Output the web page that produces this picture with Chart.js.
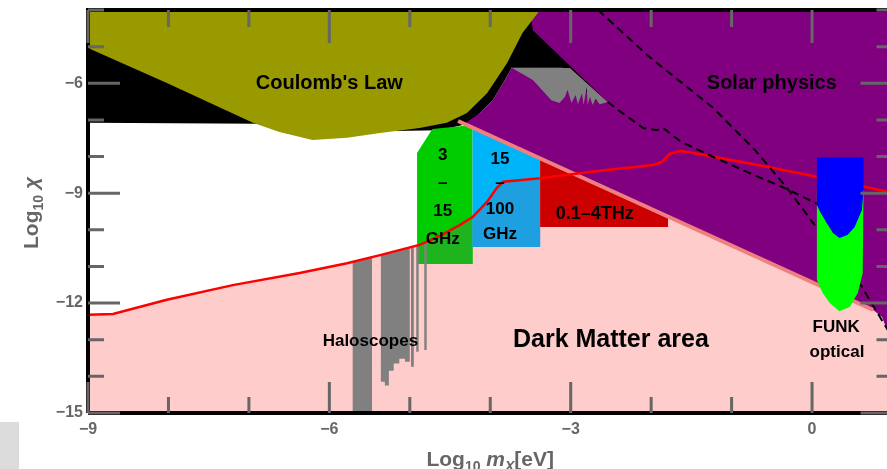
<!DOCTYPE html>
<html>
<head>
<meta charset="utf-8">
<script src="https://cdn.jsdelivr.net/npm/chart.js@4.4.1/dist/chart.umd.min.js"></script>
<style>
  html, body { margin: 0; padding: 0; background: #fff; overflow: hidden; }
  #wrap { position: relative; width: 887px; height: 469px; overflow: hidden; }
  #corner { position: absolute; left: 0; top: 422px; width: 19px; height: 47px; background: #dcdcdc; }
</style>
</head>
<body>
<div id="wrap">
  <canvas id="plot" width="894" height="469"></canvas>
  <div id="corner"></div>
</div>
<script>
// axes (log10 of mass in eV, log10 of mixing)
const xTicks = [-9, -6, -3, 0];
const yTicks = [-15, -12, -9, -6];

// red sensitivity line
const redX = [-9, -8.69, -8.02, -7.20, -6.37, -5.78, -5.37, -4.88, -4.63, -4.38, -4.22, -4.04, -3.92, -3.84, -3.38, -2.64, -1.98, -1.87, -1.77, -1.64, -1.52, -0.56, 0.26, 1];
const redY = [-12.32, -12.30, -11.91, -11.51, -11.18, -10.91, -10.69, -10.41, -10.17, -9.87, -9.65, -9.24, -8.86, -8.69, -8.59, -8.39, -8.23, -8.15, -7.93, -7.85, -7.88, -8.28, -8.64, -8.99];

// dark matter area (pink)
const pinkX = [-9, -9, -8.69, -8.02, -7.20, -6.37, -5.78, -5.37, -4.88, -4.63, -4.38, -4.22, -4.22, 0.76, 0.87, 0.93, 1, 1];
const pinkY = [-15, -12.32, -12.30, -11.91, -11.51, -11.18, -10.91, -10.69, -10.41, -10.17, -9.87, -9.65, -7.21, -12.19, -12.38, -12.73, -13.1, -15];

// solar physics (purple)
const solarX = [-4.40, -4.13, -3.97, -3.84, -3.73, -3.55, -3.45, 1, 1, 0.93, 0.87, 0.76];
const solarY = [-7.03, -6.81, -6.46, -5.99, -5.56, -4.6, -4, -4, -13.1, -12.73, -12.38, -12.19];

// black band
const blackX = [-9, -3.51, -3.47, -2.54, -2.70, -3.10, -3.73, -3.84, -3.97, -4.13, -4.34, -4.63, -5.21, -6.37, -9];
const blackY = [-4, -4, -4.55, -6.51, -6.46, -5.56, -5.56, -5.99, -6.46, -6.81, -7.14, -7.28, -7.30, -7.11, -7.08];

// gray wedge with oscillations
const grayX = [-3.73, -3.01, -2.54, -2.64, -2.69, -2.73, -2.76, -2.79, -2.80, -2.84, -2.86, -2.91, -2.94, -2.99, -3.04, -3.07, -3.14, -3.24, -3.47];
const grayY = [-5.58, -5.58, -6.51, -6.57, -6.43, -6.59, -6.37, -6.59, -6.10, -6.59, -6.27, -6.57, -6.32, -6.54, -6.18, -6.37, -6.54, -6.46, -5.91];

// Coulomb's law (olive)
const coulombX = [-9, -9, -8.02, -6.95, -6.62, -6.21, -5.78, -5.37, -4.88, -4.54, -4.29, -4.04, -3.79, -3.60, -3.38];
const coulombY = [-4, -5.04, -5.99, -7.08, -7.33, -7.55, -7.49, -7.36, -7.22, -7.08, -6.81, -6.27, -5.45, -4.63, -4];

// 3-15 GHz box
const ghz1X = [-4.91, -4.72, -4.22, -4.22, -4.91];
const ghz1Y = [-7.90, -7.25, -7.14, -10.93, -10.93];
const ghz1LowX = [-4.91, -4.88, -4.63, -4.38, -4.22, -4.22, -4.91];
const ghz1LowY = [-10.42, -10.41, -10.17, -9.87, -9.65, -10.93, -10.93];

// 15-100 GHz box
const ghz2X = [-4.22, -3.38, -3.38, -4.22];
const ghz2Y = [-7.21, -8.05, -10.47, -10.47];
const ghz2LowX = [-4.22, -4.04, -3.92, -3.84, -3.38, -3.38, -4.22];
const ghz2LowY = [-9.65, -9.24, -8.86, -8.69, -8.59, -10.47, -10.47];

// 0.1-4 THz wedge
const thzX = [-3.38, -1.79, -1.79, -3.38];
const thzY = [-8.05, -9.64, -9.92, -9.92];

// haloscopes
const halo1X = [-5.71, -5.47, -5.47, -5.71];
const halo1Y = [-10.87, -10.74, -15, -15];
const halo2X = [-5.36, -5.00, -5.00, -5.06, -5.06, -5.13, -5.13, -5.20, -5.20, -5.26, -5.26, -5.31, -5.31, -5.36];
const halo2Y = [-10.69, -10.48, -13.60, -13.60, -13.52, -13.52, -13.65, -13.65, -13.85, -13.85, -14.25, -14.25, -14.15, -14.15];
const halo3X = [-4.985, -4.95, -4.95, -4.985];
const halo3Y = [-10.48, -10.46, -13.74, -13.74];
const halo4X = [-4.92, -4.89, -4.89, -4.92];
const halo4Y = [-10.45, -10.43, -13.33, -13.33];
const halo5X = [-4.82, -4.79, -4.79, -4.82];
const halo5Y = [-10.37, -10.34, -13.28, -13.28];

// edge of dark matter area
const edgeX = [-4.40, 0.76];
const edgeY = [-7.03, -12.19];

// dashed bounds
const dashAX = [-2.66, -2.05, -1.23, -0.71, -0.31, 0.06, 0.62, 1];
const dashAY = [-4, -5.23, -6.67, -7.82, -8.86, -9.95, -11.56, -12.95];
const dashBX = [-2.54, -2.39, -2.10, -1.93, -1.85, -1.64, -1.23, -0.81, -0.31, 0.06, 0.28];
const dashBY = [-6.51, -6.76, -7.22, -7.28, -7.22, -7.58, -8.01, -8.42, -8.89, -9.29, -9.51];

// FUNK optical
const funkGreenX = [0.06, 0.64, 0.63, 0.57, 0.47, 0.34, 0.22, 0.13, 0.06];
const funkGreenY = [-8.91, -8.91, -11.18, -11.72, -12.11, -12.22, -12.00, -11.72, -11.37];
const funkBlueX = [0.06, 0.64, 0.64, 0.62, 0.53, 0.44, 0.34, 0.26, 0.18, 0.10, 0.06];
const funkBlueY = [-8.01, -8.01, -8.91, -9.46, -9.92, -10.14, -10.22, -10.09, -9.81, -9.51, -9.32];

const FONT = '"Liberation Sans", Arial, sans-serif';
const notes = [
  { text: "Coulomb's Law", x: -6.0, y: -6.0, size: 20 },
  { text: 'Solar physics', x: -0.5, y: -6.0, size: 20 },
  { text: 'Dark Matter area', x: -2.5, y: -13.0, size: 25 },
  { text: 'Haloscopes', x: -5.49, y: -13.03, size: 17 },
  { text: 'FUNK', x: 0.30, y: -12.65, size: 17 },
  { text: 'optical', x: 0.31, y: -13.33, size: 17 },
  { text: '3', x: -4.59, y: -7.96, size: 17 },
  { text: '–', x: -4.59, y: -8.72, size: 17 },
  { text: '15', x: -4.59, y: -9.49, size: 17 },
  { text: 'GHz', x: -4.59, y: -10.25, size: 17 },
  { text: '15', x: -3.88, y: -8.07, size: 17 },
  { text: '–', x: -3.88, y: -8.72, size: 17 },
  { text: '100', x: -3.88, y: -9.43, size: 17 },
  { text: 'GHz', x: -3.88, y: -10.12, size: 17 },
  { text: '0.1–4THz', x: -2.70, y: -9.56, size: 18 }
];

const pts = (xs, ys) => xs.map((x, i) => ({ x, y: ys[i] }));

function area(xs, ys, color) {
  return { data: pts(xs, ys), showLine: true, fill: 'shape', backgroundColor: color,
    borderColor: 'transparent', borderWidth: 0, pointRadius: 0, tension: 0 };
}
function curve(xs, ys, color, width, dash) {
  return { data: pts(xs, ys), showLine: true, fill: false, borderColor: color,
    borderWidth: width, borderDash: dash || [], pointRadius: 0, tension: 0 };
}

// bottom to top
const layers = [
  area(pinkX, pinkY, '#ffcccc'),
  area(solarX, solarY, '#800080'),
  area(blackX, blackY, '#000000'),
  area(grayX, grayY, '#808080'),
  area(coulombX, coulombY, '#999900'),
  area(ghz1X, ghz1Y, '#00cc00'),
  area(ghz1LowX, ghz1LowY, '#1db41d'),
  area(ghz2X, ghz2Y, '#00b4fa'),
  area(ghz2LowX, ghz2LowY, '#1e9fe0'),
  area(thzX, thzY, '#cc0000'),
  area(halo1X, halo1Y, '#808080'),
  area(halo2X, halo2Y, '#808080'),
  area(halo3X, halo3Y, '#808080'),
  area(halo4X, halo4Y, '#808080'),
  area(halo5X, halo5Y, '#808080'),
  curve(edgeX, edgeY, '#f08080', 4),
  curve(redX, redY, '#ff0000', 2.5),
  curve(dashAX, dashAY, '#000000', 2, [8, 5]),
  curve(dashBX, dashBY, '#000000', 2, [8, 5]),
  area(funkGreenX, funkGreenY, '#00ff00'),
  area(funkBlueX, funkBlueY, '#0000ff')
];
layers.forEach((d, i) => { d.order = layers.length - i; });

const fmt = v => (v < 0 ? '\u2212' + Math.abs(v) : String(v));

function drawRuns(ctx, runs, cx, cy) {
  let total = 0;
  runs.forEach(r => { ctx.font = r[1]; total += ctx.measureText(r[0]).width; });
  let x = cx - total / 2;
  runs.forEach(r => {
    ctx.font = r[1];
    ctx.fillText(r[0], x, cy + r[2]);
    x += ctx.measureText(r[0]).width;
  });
}

const decor = {
  id: 'decor',
  afterDatasetsDraw(chart) {
    const { ctx, chartArea: a, scales: { x, y } } = chart;
    ctx.save();
    // region labels
    ctx.fillStyle = '#000';
    ctx.textAlign = 'center';
    ctx.textBaseline = 'middle';
    notes.forEach(n => {
      ctx.font = 'bold ' + n.size + 'px ' + FONT;
      ctx.fillText(n.text, x.getPixelForValue(n.x), y.getPixelForValue(n.y));
    });
    // frame
    ctx.strokeStyle = '#000';
    ctx.lineWidth = 4;
    ctx.beginPath();
    ctx.moveTo(a.left, a.bottom); ctx.lineTo(a.left, a.top); ctx.lineTo(a.right, a.top);
    ctx.lineTo(a.right, a.bottom); ctx.lineTo(a.left, a.bottom);
    ctx.stroke();
    // ticks
    ctx.strokeStyle = '#666';
    ctx.lineWidth = 3;
    ctx.beginPath();
    for (let v = -9; v <= 1; v++) {
      const p = x.getPixelForValue(v);
      const major = v % 3 === 0;
      ctx.moveTo(p, a.bottom); ctx.lineTo(p, a.bottom - (major ? 31 : 16));
      ctx.moveTo(p, a.top); ctx.lineTo(p, a.top + (major ? 33 : 17));
    }
    for (let v = -15; v <= -4; v++) {
      const p = y.getPixelForValue(v);
      const major = v % 3 === 0;
      ctx.moveTo(a.left, p); ctx.lineTo(a.left + (major ? 32 : 16), p);
      ctx.moveTo(a.right, p); ctx.lineTo(a.right - (major ? 32 : 16), p);
    }
    ctx.stroke();
    ctx.restore();
  },
  afterDraw(chart) {
    const { ctx, chartArea: a } = chart;
    ctx.save();
    ctx.fillStyle = '#666';
    ctx.textAlign = 'left';
    ctx.textBaseline = 'alphabetic';
    drawRuns(ctx, [
      ['Log', 'bold 21px ' + FONT, 0],
      ['10', 'bold 14px ' + FONT, 5],
      [' ', 'bold 21px ' + FONT, 0],
      ['m', 'italic bold 21px ' + FONT, 0],
      ['X', 'italic bold 14px ' + FONT, 5],
      ['[eV]', 'bold 21px ' + FONT, 0]
    ], (a.left + a.right) / 2, 466);
    ctx.translate(38, 213);
    ctx.rotate(-Math.PI / 2);
    drawRuns(ctx, [
      ['Log', 'bold 21px ' + FONT, 0],
      ['10', 'bold 14px ' + FONT, 5],
      [' ', 'bold 21px ' + FONT, 0],
      ['\u03c7', 'italic bold 21px ' + FONT, 0]
    ], 0, 0);
    ctx.restore();
  }
};

new Chart(document.getElementById('plot'), {
  type: 'scatter',
  data: { datasets: layers },
  options: {
    responsive: false,
    animation: false,
    events: [],
    layout: { padding: { top: 10, right: 1.5, left: 0, bottom: 0 } },
    plugins: { legend: { display: false }, tooltip: { enabled: false } },
    scales: {
      x: {
        type: 'linear', min: -9, max: 1,
        afterBuildTicks: s => { s.ticks = xTicks.map(v => ({ value: v })); },
        afterFit: s => { s.height = 56; s.paddingLeft = 0; s.paddingRight = 0; },
        grid: { display: false, drawTicks: false },
        border: { display: false },
        ticks: { padding: 7, color: '#666', autoSkip: false, maxRotation: 0,
          font: { family: FONT, size: 16, weight: 'bold' }, callback: fmt }
      },
      y: {
        type: 'linear', min: -15, max: -4,
        afterBuildTicks: s => { s.ticks = yTicks.map(v => ({ value: v })); },
        afterFit: s => { s.width = 88; s.paddingTop = 0; s.paddingBottom = 0; },
        grid: { display: false, drawTicks: false },
        border: { display: false },
        ticks: { padding: 5, color: '#666', autoSkip: false,
          font: { family: FONT, size: 16, weight: 'bold' }, callback: fmt }
      }
    }
  },
  plugins: [decor]
});
</script>
</body>
</html>
